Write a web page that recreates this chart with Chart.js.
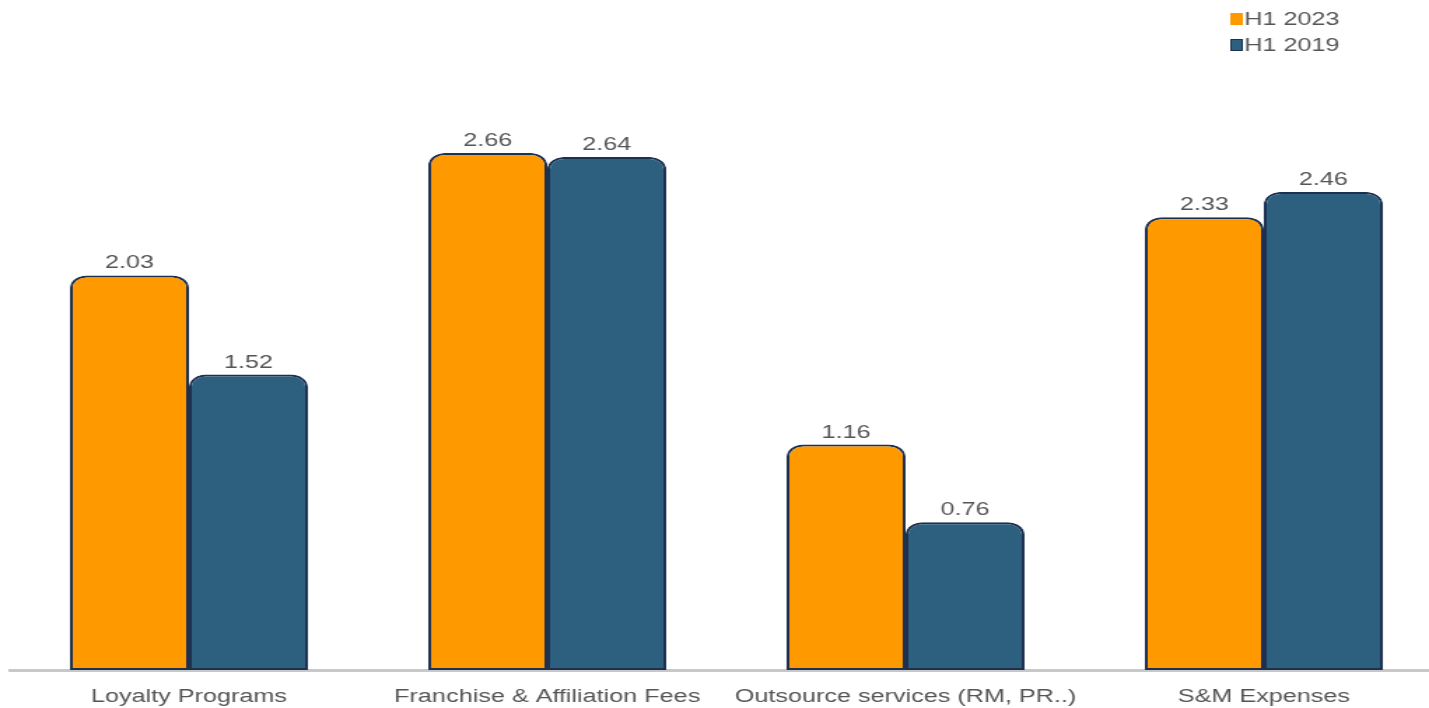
<!DOCTYPE html>
<html>
<head>
<meta charset="utf-8">
<script src="https://cdn.jsdelivr.net/npm/chart.js@4.4.0/dist/chart.umd.min.js"></script>
<style>
  html, body { margin: 0; padding: 0; background: #fff; overflow: hidden; }
  #chart { display: block; }
</style>
</head>
<body>
<canvas id="chart" width="1031" height="708" style="width:1443px;height:708px"></canvas>
<script>
const categories = ['Loyalty Programs', 'Franchise & Affiliation Fees', 'Outsource services (RM, PR..)', 'S&M Expenses'];
const seriesNames = ['H1 2023', 'H1 2019'];
const h1_2023 = [2.03, 2.66, 1.16, 2.33];
const h1_2019 = [1.52, 2.64, 0.76, 2.46];

const ORANGE = '#FF9900';
const BLUE = '#2D5F7F';
const EDGE = '#1D3050';
const TEXT = '#555555';
const FONT = "'Liberation Sans', Arial, sans-serif";

// value labels above each bar
const valueLabels = {
    id: 'valueLabels',
    afterDatasetsDraw(chart) {
        const ctx = chart.ctx;
        ctx.save();
        ctx.font = '18px ' + FONT;
        ctx.fillStyle = TEXT;
        ctx.textAlign = 'center';
        ctx.textBaseline = 'bottom';
        chart.data.datasets.forEach((ds, i) => {
            chart.getDatasetMeta(i).data.forEach((bar, j) => {
                ctx.fillText(ds.data[j].toFixed(2), bar.x, bar.y - 3);
            });
        });
        ctx.restore();
    }
};

// stacked legend in the top right corner
const cornerLegend = {
    id: 'cornerLegend',
    afterDraw(chart) {
        const ctx = chart.ctx;
        const x = 879;
        const rows = [19, 45];
        ctx.save();
        ctx.font = '18px ' + FONT;
        ctx.textBaseline = 'middle';
        ctx.textAlign = 'left';
        chart.data.datasets.forEach((ds, i) => {
            const y = rows[i];
            ctx.fillStyle = ds.backgroundColor;
            ctx.fillRect(x, y - 6, 9, 12);
            if (i === 1) {
                ctx.strokeStyle = EDGE;
                ctx.lineWidth = 1;
                ctx.strokeRect(x + 0.5, y - 5.5, 8, 11);
            }
            ctx.fillStyle = TEXT;
            ctx.fillText(ds.label, x + 10, y + 1);
        });
        ctx.restore();
    }
};

const barStyle = {
    borderColor: EDGE,
    borderWidth: 2,
    borderSkipped: false,
    borderRadius: { topLeft: 12, topRight: 12, bottomLeft: 0, bottomRight: 0 },
    categoryPercentage: 0.664,
    barPercentage: 1
};

new Chart(document.getElementById('chart'), {
    type: 'bar',
    data: {
        labels: categories,
        datasets: [
            { label: seriesNames[0], data: h1_2023, backgroundColor: ORANGE, ...barStyle },
            { label: seriesNames[1], data: h1_2019, backgroundColor: BLUE, ...barStyle }
        ]
    },
    options: {
        responsive: false,
        animation: false,
        layout: { padding: { left: 7, right: 0, top: 87, bottom: 0 } },
        plugins: {
            legend: { display: false },
            tooltip: { enabled: false }
        },
        scales: {
            x: {
                grid: { display: false, drawTicks: false, tickLength: 0 },
                border: { display: true, color: '#C8C8C8', width: 3 },
                ticks: { color: TEXT, font: { family: FONT, size: 18 }, padding: 16, maxRotation: 0, autoSkip: false },
                // keep the axis band fixed so the baseline sits low
                afterFit(scale) { scale.height = 38; }
            },
            y: {
                display: false,
                min: 0,
                max: 3
            }
        }
    },
    plugins: [valueLabels, cornerLegend]
});
</script>
</body>
</html>
